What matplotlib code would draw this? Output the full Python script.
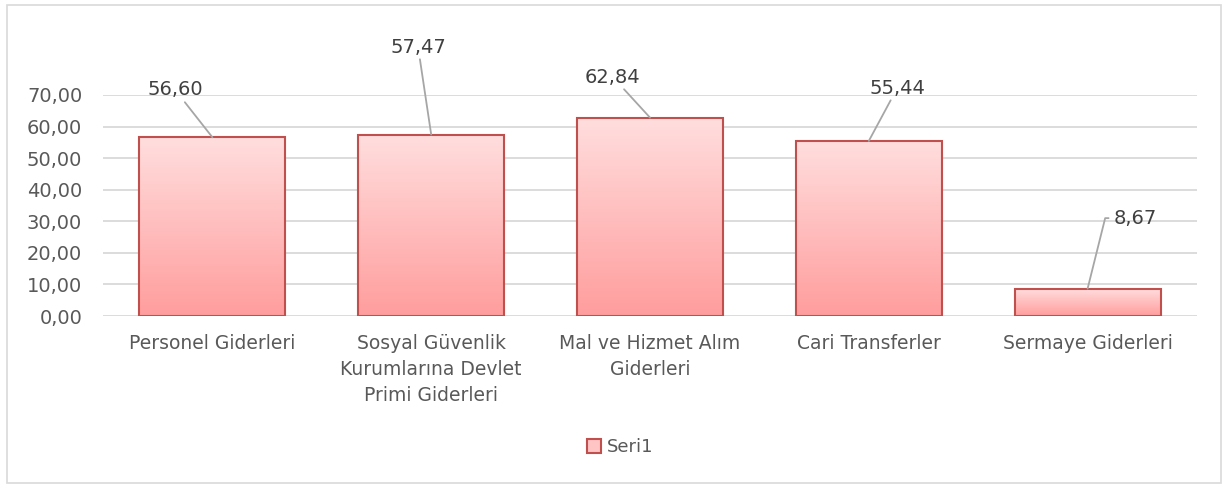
import matplotlib
matplotlib.use("Agg")
import matplotlib.pyplot as plt
import matplotlib.patches as patches
import numpy as np
from matplotlib.colors import LinearSegmentedColormap

categories = [
    "Personel Giderleri",
    "Sosyal Güvenlik\nKurumlarına Devlet\nPrimi Giderleri",
    "Mal ve Hizmet Alım\nGiderleri",
    "Cari Transferler",
    "Sermaye Giderleri",
]
values = [56.60, 57.47, 62.84, 55.44, 8.67]
series_name = "Seri1"
yticks = [0, 10, 20, 30, 40, 50, 60, 70]

# where the data labels sit (dx from bar centre, y in data units)
label_pos = [(-0.17, 71.6), (-0.06, 85.2), (-0.17, 75.7), (0.13, 72.2), (0.22, 31.0)]

plt.rcParams['font.family'] = ['DejaVu Sans']
grey = '#595959'
edge = '#C0504D'
cmap = LinearSegmentedColormap.from_list('pinkgrad', ['#FFDEDE', '#FF9D9D'])

fig = plt.figure(figsize=(12.29, 4.88), dpi=100)
ax = fig.add_axes([103/1229, 1-316/488, (1197-103)/1229, (316-95)/488])

# chart border
fig.patches.append(patches.Rectangle((7/1229, 5/488), 1214/1229, 478/488, transform=fig.transFigure,
                                     fill=False, ec='#D9D9D9', lw=1.2))

x = np.arange(len(values))
w = 0.667
bars = ax.bar(x, values, width=w, color='none', edgecolor=edge, linewidth=1.5, zorder=3)
grad = np.linspace(0, 1, 256).reshape(-1, 1)
for b in bars:
    x0, y0 = b.get_x(), b.get_y()
    im = ax.imshow(grad, cmap=cmap, aspect='auto', extent=(x0, x0 + b.get_width(), y0, y0 + b.get_height()),
                   zorder=2, origin='upper')
    im.set_clip_path(b)

ax.set_xlim(-0.5, len(values) - 0.5)
ax.set_ylim(0, 70)
ax.set_yticks(yticks)
ax.set_yticklabels([f"{t:.2f}".replace('.', ',') for t in yticks], fontsize=14, color=grey)
ax.set_xticks(x)
ax.set_xticklabels(categories, fontsize=13.5, color=grey, linespacing=1.45, va='top')
ax.tick_params(length=0)
ax.tick_params(axis='x', pad=13)
ax.tick_params(axis='y', pad=15)
ax.yaxis.grid(True, color='#D9D9D9', lw=1.3, zorder=0)
ax.set_axisbelow(True)
for s in ax.spines.values():
    s.set_visible(False)

for i, (v, (dx, ly)) in enumerate(zip(values, label_pos)):
    txt = f"{v:.2f}".replace('.', ',')
    if i == len(values) - 1:
        arrow = dict(arrowstyle='-', color='#A6A6A6', lw=1.3, relpos=(0, 0.5),
                     connectionstyle='angle,angleA=0,angleB=76,rad=0', shrinkB=0)
    else:
        arrow = dict(arrowstyle='-', color='#A6A6A6', lw=1.3, shrinkA=0, shrinkB=0)
    ax.annotate(txt, xy=(i, v), xytext=(i + dx, ly), textcoords='data', ha='center', va='center',
                fontsize=14, color='#404040', arrowprops=arrow, annotation_clip=False)

handle = patches.Patch(facecolor='#FFC4C4', edgecolor=edge, lw=1.5)
fig.legend([handle], [series_name], loc='center', bbox_to_anchor=(620/1229, 1-447/488), frameon=False,
           fontsize=13, labelcolor=grey, handlelength=0.8, handleheight=0.8, handletextpad=0.3)

fig.savefig('out.png', dpi=100)
